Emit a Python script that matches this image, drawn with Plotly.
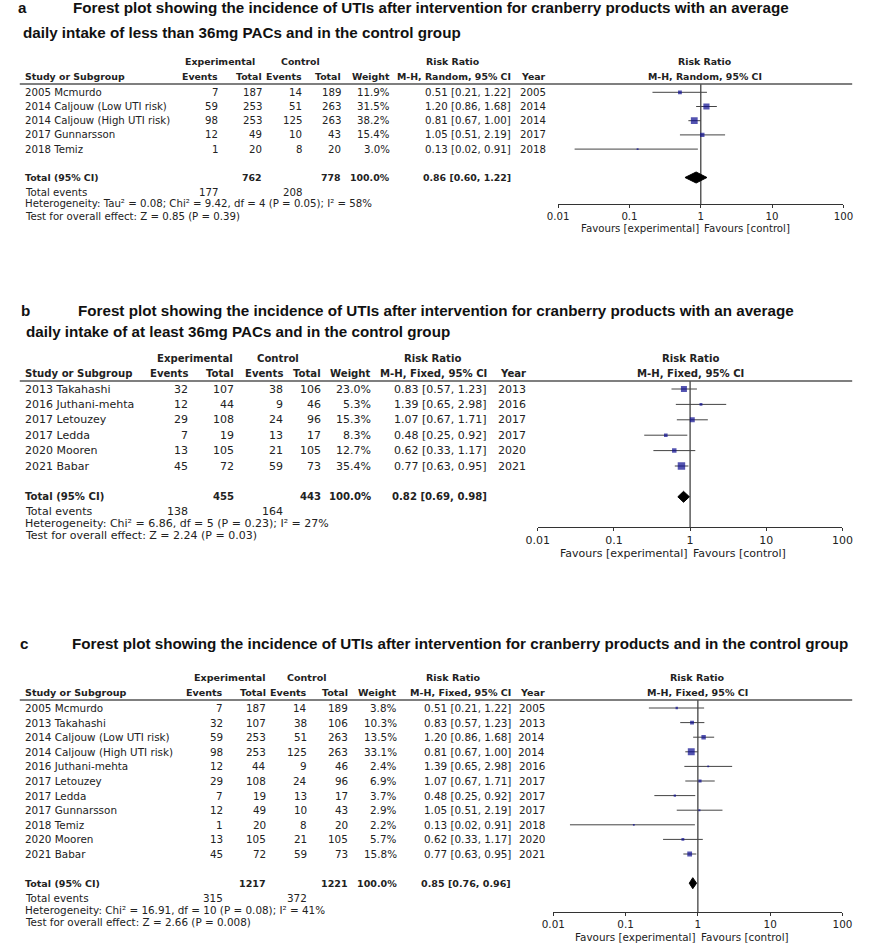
import math
import plotly.graph_objects as go

W, H = 870, 944
FONT = "DejaVu Sans"
TFONT = "Liberation Sans"
TXT = "#222222"
SQ = "#0c0c90"
LINE = "#333333"

# ---------------- Panel a data ----------------
a_studies = ["2005 Mcmurdo", "2014 Caljouw (Low UTI risk)", "2014 Caljouw (High UTI risk)",
             "2017 Gunnarsson", "2018 Temiz"]
a_exp_events = [7, 59, 98, 12, 1]
a_exp_total = [187, 253, 253, 49, 20]
a_ctl_events = [14, 51, 125, 10, 8]
a_ctl_total = [189, 263, 263, 43, 20]
a_weight = [11.9, 31.5, 38.2, 15.4, 3.0]
a_rr = [0.51, 1.20, 0.81, 1.05, 0.13]
a_lo = [0.21, 0.86, 0.67, 0.51, 0.017]
a_hi = [1.22, 1.68, 1.00, 2.19, 0.91]
a_year = [2005, 2014, 2014, 2017, 2018]
a_sum_exp_total = 762
a_sum_ctl_total = 778
a_pooled = [0.86, 0.60, 1.22]
a_events = [177, 208]
a_het = "Heterogeneity: Tau² = 0.08; Chi² = 9.42, df = 4 (P = 0.05); I² = 58%"
a_test = "Test for overall effect: Z = 0.85 (P = 0.39)"

# ---------------- Panel b data ----------------
b_studies = ["2013 Takahashi", "2016 Juthani-mehta", "2017 Letouzey", "2017 Ledda",
             "2020 Mooren", "2021 Babar"]
b_exp_events = [32, 12, 29, 7, 13, 45]
b_exp_total = [107, 44, 108, 19, 105, 72]
b_ctl_events = [38, 9, 24, 13, 21, 59]
b_ctl_total = [106, 46, 96, 17, 105, 73]
b_weight = [23.0, 5.3, 15.3, 8.3, 12.7, 35.4]
b_rr = [0.83, 1.39, 1.07, 0.48, 0.62, 0.77]
b_lo = [0.57, 0.65, 0.67, 0.25, 0.33, 0.63]
b_hi = [1.23, 2.98, 1.71, 0.92, 1.17, 0.95]
b_year = [2013, 2016, 2017, 2017, 2020, 2021]
b_sum_exp_total = 455
b_sum_ctl_total = 443
b_pooled = [0.82, 0.69, 0.98]
b_events = [138, 164]
b_het = "Heterogeneity: Chi² = 6.86, df = 5 (P = 0.23); I² = 27%"
b_test = "Test for overall effect: Z = 2.24 (P = 0.03)"

# ---------------- Panel c data ----------------
c_studies = ["2005 Mcmurdo", "2013 Takahashi", "2014 Caljouw (Low UTI risk)",
             "2014 Caljouw (High UTI risk)", "2016 Juthani-mehta", "2017 Letouzey",
             "2017 Ledda", "2017 Gunnarsson", "2018 Temiz", "2020 Mooren", "2021 Babar"]
c_exp_events = [7, 32, 59, 98, 12, 29, 7, 12, 1, 13, 45]
c_exp_total = [187, 107, 253, 253, 44, 108, 19, 49, 20, 105, 72]
c_ctl_events = [14, 38, 51, 125, 9, 24, 13, 10, 8, 21, 59]
c_ctl_total = [189, 106, 263, 263, 46, 96, 17, 43, 20, 105, 73]
c_weight = [3.8, 10.3, 13.5, 33.1, 2.4, 6.9, 3.7, 2.9, 2.2, 5.7, 15.8]
c_rr = [0.51, 0.83, 1.20, 0.81, 1.39, 1.07, 0.48, 1.05, 0.13, 0.62, 0.77]
c_lo = [0.21, 0.57, 0.86, 0.67, 0.65, 0.67, 0.25, 0.51, 0.017, 0.33, 0.63]
c_hi = [1.22, 1.23, 1.68, 1.00, 2.98, 1.71, 0.92, 2.19, 0.91, 1.17, 0.95]
c_year = [2005, 2013, 2014, 2014, 2016, 2017, 2017, 2017, 2018, 2020, 2021]
c_sum_exp_total = 1217
c_sum_ctl_total = 1221
c_pooled = [0.85, 0.76, 0.96]
c_events = [315, 372]
c_het = "Heterogeneity: Chi² = 16.91, df = 10 (P = 0.08); I² = 41%"
c_test = "Test for overall effect: Z = 2.66 (P = 0.008)"

tick_vals = [0.01, 0.1, 1, 10, 100]
tick_text = ["0.01", "0.1", "1", "10", "100"]

title_1 = "Forest plot showing the incidence of UTIs after intervention for cranberry products with an average"
title_a2 = "daily intake of less than 36mg PACs and in the control group"
title_b2 = "daily intake of at least 36mg PACs and in the control group"
title_c1 = "Forest plot showing the incidence of UTIs after intervention for cranberry products and in the control group"

panels = [
    dict(letter="a", t1=title_1, t2=title_a2, ty=8, t2y=32, lx=5, t1x=62, t2x=10,
         studies=a_studies, ee=a_exp_events, et=a_exp_total, ce=a_ctl_events, ct=a_ctl_total,
         w=a_weight, rr=a_rr, lo=a_lo, hi=a_hi, yr=a_year, set=a_sum_exp_total,
         sct=a_sum_ctl_total, pooled=a_pooled, events=a_events, het=a_het, test=a_test,
         method="M-H, Random, 95% CI",
         fs=10.2, line_y=84, axis_y=204, row0=92.3, step=14.2, xdom=(561, 854),
         cx=dict(label=12, ee=213, et=258, ce=299, ct=339, wt=389, ci=514, yr=550),
         hexp=214, hctl=296, hrr=453, fhdr=712, sqk=1.1, fav=25),
    dict(letter="b", t1=title_1, t2=title_b2, ty=310, t2y=332, lx=8, t1x=67, t2x=13,
         studies=b_studies, ee=b_exp_events, et=b_exp_total, ce=b_ctl_events, ct=b_ctl_total,
         w=b_weight, rr=b_rr, lo=b_lo, hi=b_hi, yr=b_year, set=b_sum_exp_total,
         sct=b_sum_ctl_total, pooled=b_pooled, events=b_events, het=b_het, test=b_test,
         method="M-H, Fixed, 95% CI",
         fs=11.0, line_y=381, axis_y=527, row0=389, step=15.4, xdom=(540, 853),
         cx=dict(label=12, ee=182, et=229, ce=279, ct=318, wt=370, ci=489, yr=529),
         hexp=188, hctl=273, hrr=432, fhdr=697, sqk=1.25, fav=26.5),
    dict(letter="c", t1=title_c1, t2=None, ty=643, t2y=None, lx=7, t1x=61, t2x=None,
         studies=c_studies, ee=c_exp_events, et=c_exp_total, ce=c_ctl_events, ct=c_ctl_total,
         w=c_weight, rr=c_rr, lo=c_lo, hi=c_hi, yr=c_year, set=c_sum_exp_total,
         sct=c_sum_ctl_total, pooled=c_pooled, events=c_events, het=c_het, test=c_test,
         method="M-H, Fixed, 95% CI",
         fs=10.4, line_y=700, axis_y=912, row0=708, step=14.6, xdom=(556, 853),
         cx=dict(label=12, ee=218, et=262, ce=304, ct=346, wt=396, ci=514, yr=548),
         hexp=223, hctl=303, hrr=453, fhdr=704, sqk=1.2, fav=24.5),
]

fig = go.Figure()
ann = []
shapes = []
layout_axes = {}


def txt(x, y, s, size, anchor="left", bold=False, family=FONT, color=TXT):
    ann.append(dict(x=x / W, y=1 - y / H, xref="paper", yref="paper",
                    text=f"<b>{s}</b>" if bold else s, showarrow=False,
                    xanchor=anchor, yanchor="middle", borderpad=0,
                    font=dict(family=family, size=size, color=color)))


def ci_str(r, l, h):
    return f"{r:.2f} [{l:.2f}, {h:.2f}]"


for i, p in enumerate(panels, start=1):
    fs = p["fs"]
    bs = fs * 0.92
    cx = p["cx"]
    # Titles
    txt(p["lx"], p["ty"], p["letter"], 15.2, bold=True, family=TFONT, color="#111111")
    txt(p["t1x"], p["ty"], p["t1"], 15.2, bold=True, family=TFONT, color="#111111")
    if p["t2"]:
        txt(p["t2x"], p["t2y"], p["t2"], 15.2, bold=True, family=TFONT, color="#111111")

    h1 = p["line_y"] - 22.5
    h2 = p["line_y"] - 7.5
    # Table headers
    txt(p["hexp"], h1, "Experimental", bs, "center", True)
    txt(p["hctl"], h1, "Control", bs, "center", True)
    txt(p["hrr"], h1, "Risk Ratio", bs, "center", True)
    txt(cx["label"], h2, "Study or Subgroup", bs, "left", True)
    txt(cx["ee"], h2, "Events", bs, "right", True)
    txt(cx["et"], h2, "Total", bs, "right", True)
    txt(cx["ce"], h2, "Events", bs, "right", True)
    txt(cx["ct"], h2, "Total", bs, "right", True)
    txt(cx["wt"], h2, "Weight", bs, "right", True)
    txt(cx["ci"], h2, p["method"], bs, "right", True)
    txt(cx["yr"], h2, "Year", bs, "right", True)
    # Forest header
    txt(p["fhdr"], h1, "Risk Ratio", bs, "center", True)
    txt(p["fhdr"], h2, p["method"], bs, "center", True)

    shapes.append(dict(type="line", xref="paper", yref="paper", x0=8 / W, x1=863 / W,
                       y0=1 - p["line_y"] / H, y1=1 - p["line_y"] / H,
                       line=dict(color="#555555", width=1.3)))

    n = len(p["studies"])
    rows = [p["row0"] + k * p["step"] for k in range(n)]
    for k in range(n):
        y = rows[k]
        txt(cx["label"], y, p["studies"][k], fs)
        txt(cx["ee"], y, str(p["ee"][k]), fs, "right")
        txt(cx["et"], y, str(p["et"][k]), fs, "right")
        txt(cx["ce"], y, str(p["ce"][k]), fs, "right")
        txt(cx["ct"], y, str(p["ct"][k]), fs, "right")
        txt(cx["wt"], y, f"{p['w'][k]:.1f}%", fs, "right")
        txt(cx["ci"], y, ci_str(p["rr"][k], p["lo"][k], p["hi"][k]), fs, "right")
        txt(cx["yr"], y, str(p["yr"][k]), fs, "right")

    ty = p["row0"] + (n + 1) * p["step"]
    txt(cx["label"], ty, "Total (95% CI)", bs, "left", True)
    txt(cx["et"], ty, str(p["set"]), bs, "right", True)
    txt(cx["ct"], ty, str(p["sct"]), bs, "right", True)
    txt(cx["wt"], ty, "100.0%", bs, "right", True)
    txt(cx["ci"], ty, ci_str(*p["pooled"]), bs, "right", True)
    txt(cx["label"], ty + 14.5, "Total events", fs)
    txt(cx["ee"], ty + 14.5, str(p["events"][0]), fs, "right")
    txt(cx["ce"], ty + 14.5, str(p["events"][1]), fs, "right")
    txt(cx["label"], ty + 26.5, p["het"], fs)
    txt(cx["label"], ty + 38.5, p["test"], fs)

    xa = "x" if i == 1 else f"x{i}"
    ya = "y" if i == 1 else f"y{i}"
    xk = "xaxis" if i == 1 else f"xaxis{i}"
    yk = "yaxis" if i == 1 else f"yaxis{i}"
    dom = [p["xdom"][0] / W, p["xdom"][1] / W]
    layout_axes[xk] = dict(type="log", range=[-2, 2], domain=dom,
                           anchor=ya, showgrid=False, zeroline=False, showline=True,
                           linecolor=LINE, linewidth=1, ticks="outside", ticklen=3,
                           tickcolor=LINE, tickwidth=1, tickvals=tick_vals, ticktext=tick_text,
                           tickfont=dict(family=FONT, size=fs, color=TXT), fixedrange=True)
    # overlay axis giving the upward half of each tick
    ok = f"xaxis{i + 3}"
    layout_axes[ok] = dict(type="log", range=[-2, 2], domain=dom, anchor=ya, overlaying=xa,
                           showgrid=False, zeroline=False, showline=False, ticks="inside",
                           ticklen=3, tickcolor=LINE, tickwidth=1, tickvals=tick_vals,
                           showticklabels=False, fixedrange=True)
    layout_axes[yk] = dict(range=[p["axis_y"], p["line_y"]],
                           domain=[1 - p["axis_y"] / H, 1 - p["line_y"] / H],
                           anchor=xa, visible=False, showgrid=False, zeroline=False,
                           fixedrange=True)

    # vertical line of no effect
    fig.add_trace(go.Scatter(x=[1, 1], y=[p["line_y"], p["axis_y"]], mode="lines",
                             line=dict(color=LINE, width=1.2), xaxis=xa, yaxis=ya,
                             hoverinfo="skip"))
    # CI lines
    xs, ys = [], []
    for k in range(n):
        xs += [p["lo"][k], p["hi"][k], None]
        ys += [rows[k], rows[k], None]
    fig.add_trace(go.Scatter(x=xs, y=ys, mode="lines", line=dict(color="#444444", width=1),
                             xaxis=xa, yaxis=ya, hoverinfo="skip"))
    # squares
    fig.add_trace(go.Scatter(x=p["rr"], y=rows, mode="markers", xaxis=xa, yaxis=ya,
                             marker=dict(symbol="square", color=SQ,
                                         size=[p["sqk"] * math.sqrt(v) for v in p["w"]],
                                         line=dict(width=0))))
    # diamond
    r, l, h = p["pooled"]
    dh = 5.5
    fig.add_trace(go.Scatter(x=[l, r, h, r, l], y=[ty, ty - dh, ty, ty + dh, ty],
                             mode="lines", fill="toself", fillcolor="#000000",
                             line=dict(color="#000000", width=1), xaxis=xa, yaxis=ya,
                             hoverinfo="skip"))
    # favours labels
    fy = 1 - (p["axis_y"] + p["fav"]) / H
    ann.append(dict(x=0, xref=xa, y=fy, yref="paper",
                    text="Favours [experimental]", showarrow=False, xanchor="right",
                    yanchor="middle", xshift=-1, borderpad=0,
                    font=dict(family=FONT, size=fs, color=TXT)))
    ann.append(dict(x=0, xref=xa, y=fy, yref="paper",
                    text="Favours [control]", showarrow=False, xanchor="left",
                    yanchor="middle", xshift=2, borderpad=0,
                    font=dict(family=FONT, size=fs, color=TXT)))

fig.update_layout(width=W, height=H, margin=dict(l=0, r=0, t=0, b=0),
                  paper_bgcolor="white", plot_bgcolor="white", showlegend=False,
                  annotations=ann, shapes=shapes, **layout_axes)

fig.write_html("out.html", config={"displayModeBar": False},
               post_script="document.body.style.margin='0';")
